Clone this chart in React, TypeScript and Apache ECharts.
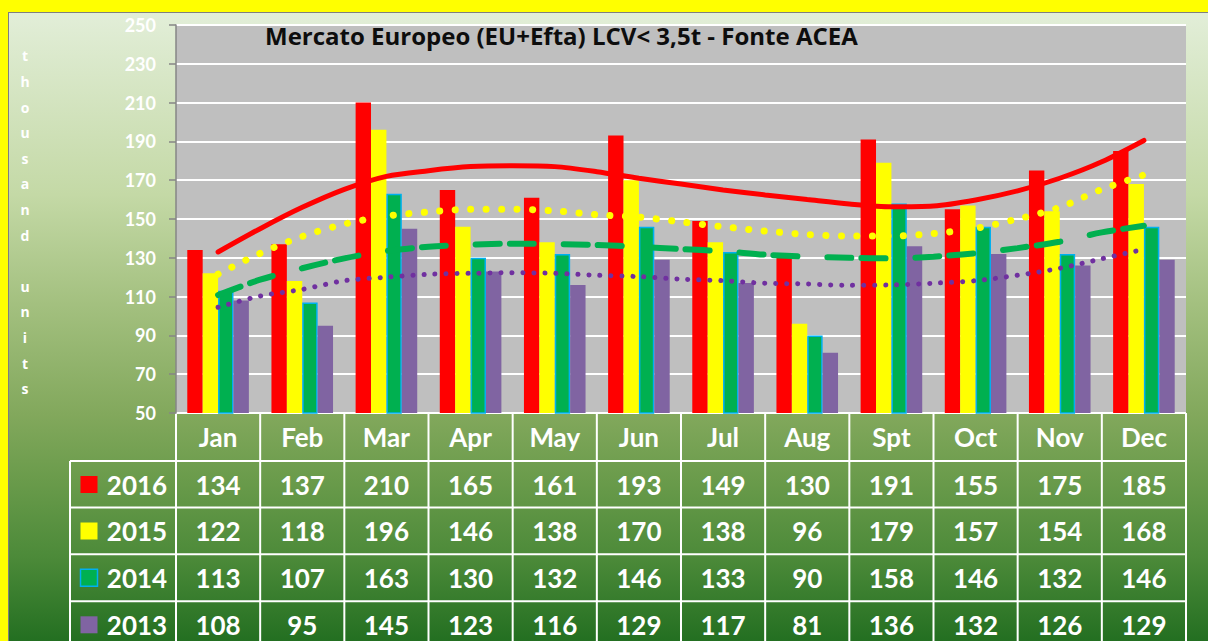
import React, { useEffect, useRef } from "react";
import * as echarts from "echarts";

const months = ["Jan", "Feb", "Mar", "Apr", "May", "Jun", "Jul", "Aug", "Spt", "Oct", "Nov", "Dec"];
const years = ["2016", "2015", "2014", "2013"];
const v2016 = [134, 137, 210, 165, 161, 193, 149, 130, 191, 155, 175, 185];
const v2015 = [122, 118, 196, 146, 138, 170, 138, 96, 179, 157, 154, 168];
const v2014 = [113, 107, 163, 130, 132, 146, 133, 90, 158, 146, 132, 146];
const v2013 = [108, 95, 145, 123, 116, 129, 117, 81, 136, 132, 126, 129];
// polynomial trend lines, values at each month and half-month
// (position on a 0..12 month scale)
const trendPos = [0.5, 1, 1.5, 2, 2.5, 3, 3.5, 4, 4.5, 5, 5.5, 6, 6.5, 7, 7.5, 8, 8.5, 9, 9.5, 10, 10.5, 11, 11.5];
const t2016 = [133, 145, 156, 165.3, 172, 174.9, 177, 177.5, 177, 174.4, 171, 168, 165, 162.4, 160, 157.7, 156.3, 156.7, 159.8, 164.5, 171, 179.5, 190.5];
const t2015 = [121.6, 132.3, 141, 147.4, 151.5, 153.6, 155, 155, 154.2, 152.2, 151, 148.5, 146, 143.8, 142, 141.2, 141.2, 142.5, 145.2, 150, 156, 165.3, 172.7];
const t2014 = [110.8, 118.7, 124.6, 129.7, 133.5, 135.7, 136.8, 137.3, 137.1, 136.6, 135.7, 134.5, 133.4, 131.6, 130.6, 130, 129.7, 130.6, 132.3, 135, 138.3, 143.1, 146.5];
const t2013 = [104.5, 110.3, 113.7, 118.2, 120, 121.5, 122, 122.3, 122, 121, 120.3, 119, 118.2, 116.9, 116.5, 115.8, 116, 116.9, 118.2, 121, 124.6, 129.5, 134.4];
const yMin = 50;
const yMax = 250;
const yStep = 20;
const yAxisName = "thousand units";
const titleText = "Mercato Europeo (EU+Efta) LCV< 3,5t - Fonte ACEA";

const colors = ["#FF0000", "#FFFF00", "#00B050", "#8064A2"];
const FONT = "Lato, 'Open Sans', sans-serif";

const GL = 176;
const GR = 1186;
const GT = 25;
const GB = 413;
const LEG_L = 70;
const ROW_TOPS = [461, 507.5, 554.3, 601.3];
const ROW_H = 47;

export default function App() {
  const ref = useRef<HTMLDivElement>(null);
  useEffect(() => {
    if (!ref.current) return;
    const chart = echarts.init(ref.current, undefined, { renderer: "svg" });
    const values = [v2016, v2015, v2014, v2013];
    const colW = (GR - GL) / months.length;
    const graphics: any[] = [];
    const lineStyle = { stroke: "#FFFFFF", lineWidth: 2 };
    // table grid lines
    for (let i = 0; i <= months.length; i++) {
      const x = GL + i * colW;
      graphics.push({ type: "line", shape: { x1: x, y1: GB, x2: x, y2: 660 }, style: lineStyle, silent: true });
    }
    graphics.push({ type: "line", shape: { x1: LEG_L, y1: ROW_TOPS[0], x2: LEG_L, y2: 660 }, style: lineStyle, silent: true });
    graphics.push({ type: "line", shape: { x1: GL, y1: GB, x2: GR, y2: GB }, style: lineStyle, silent: true });
    ROW_TOPS.forEach((y) => {
      graphics.push({ type: "line", shape: { x1: LEG_L, y1: y, x2: GR, y2: y }, style: lineStyle, silent: true });
    });
    // rows
    years.forEach((yr, r) => {
      const cy = ROW_TOPS[r] + ROW_H / 2;
      graphics.push({
        type: "rect",
        shape: { x: 80.5, y: cy - 8.5, width: 17, height: 17 },
        style: { fill: colors[r], stroke: r === 2 ? "#00B0F0" : colors[r], lineWidth: r === 2 ? 1.5 : 0 },
        silent: true,
      });
      graphics.push({
        type: "text",
        x: 137,
        y: cy,
        style: { text: yr, fill: "#FFFFFF", font: `bold 26px ${FONT}`, textAlign: "center", textVerticalAlign: "middle" },
        silent: true,
      });
      values[r].forEach((v, i) => {
        graphics.push({
          type: "text",
          x: GL + (i + 0.5) * colW,
          y: cy,
          style: { text: String(v), fill: "#FFFFFF", font: `bold 26px ${FONT}`, textAlign: "center", textVerticalAlign: "middle" },
          silent: true,
        });
      });
    });
    // vertical axis name
    graphics.push({
      type: "text",
      x: 25,
      y: 43,
      style: {
        text: yAxisName.split("").map((c) => (c === " " ? "" : c)).join("\n"),
        fill: "#FFFFFF",
        font: `bold 14px 'Open Sans', sans-serif`,
        lineHeight: 25.6,
        textAlign: "center",
        textVerticalAlign: "top",
      },
      silent: true,
    });
    // title
    graphics.push({
      type: "text",
      x: 265,
      y: 35,
      z: 10,
      style: {
        text: titleText,
        fill: "#0D0D0D",
        font: `bold 24px 'Open Sans', sans-serif`,
        textAlign: "left",
        textVerticalAlign: "middle",
      },
      silent: true,
    });

    const barSeries = values.map((d, i) => ({
      type: "bar",
      name: years[i],
      data: d,
      barWidth: 15.4,
      barGap: "0%",
      itemStyle: {
        color: colors[i],
        borderColor: i === 2 ? "#00B0F0" : colors[i],
        borderWidth: i === 2 ? 1.5 : 0,
      },
      z: 2,
    }));
    const trend = (data: number[], ls: any) => ({
      type: "line",
      xAxisIndex: 1,
      data: data.map((v, i) => [trendPos[i], v]),
      smooth: 0.3,
      symbol: "none",
      lineStyle: ls,
      z: 4,
      silent: true,
    });
    chart.setOption({
      animation: false,
      grid: {
        left: GL,
        top: GT,
        width: GR - GL,
        height: GB - GT,
        show: true,
        backgroundColor: "#BFBFBF",
        borderWidth: 0,
      },
      xAxis: [
        {
          type: "category",
          data: months,
          axisLine: { show: false },
          axisTick: { show: false },
          axisLabel: { color: "#FFFFFF", fontFamily: FONT, fontWeight: "bold", fontSize: 26, margin: 11, lineHeight: 26 },
        },
        { type: "value", min: 0, max: months.length, show: false },
      ],
      yAxis: {
        type: "value",
        min: yMin,
        max: yMax,
        interval: yStep,
        axisLine: { show: true, lineStyle: { color: "#868686", width: 1.5 } },
        axisTick: { show: true, length: 7, lineStyle: { color: "#868686", width: 1.5 } },
        axisLabel: { color: "#FFFFFF", fontFamily: FONT, fontWeight: "bold", fontSize: 18, margin: 20 },
        splitLine: { show: true, lineStyle: { color: "#FFFFFF", width: 2 } },
      },
      series: [
        ...barSeries,
        trend(t2016, { color: "#FF0000", width: 5, cap: "round" }),
        trend(t2015, { color: "#FFFF00", width: 7, type: [0.1, 15.4], cap: "round" }),
        trend(t2014, { color: "#00B050", width: 6, type: [24, 10, 24, 30], cap: "round" }),
        trend(t2013, { color: "#7030A0", width: 5, type: [0.1, 10.9], cap: "round" }),
      ],
      graphic: graphics,
    });
    return () => chart.dispose();
  }, []);

  return (
    <div style={{ position: "fixed", left: 0, top: 0, width: 1208, height: 641, overflow: "hidden", background: "#FFFF00" }}>
      <div
        style={{
          position: "absolute",
          left: 8,
          top: 12,
          width: 1220,
          height: 650,
          boxSizing: "border-box",
          border: "1.5px solid #7F7F7F",
          background:
            "linear-gradient(to bottom, #E2EED8 0%, #C4D9A6 28%, #A3C07F 45%, #82A85C 62%, #6A9B4B 72%, #4C8A39 84%, #236F21 97%, #1E6B1E 100%)",
        }}
      />
      <div ref={ref} style={{ position: "absolute", left: 0, top: 0, width: 1208, height: 641 }} />
    </div>
  );
}
